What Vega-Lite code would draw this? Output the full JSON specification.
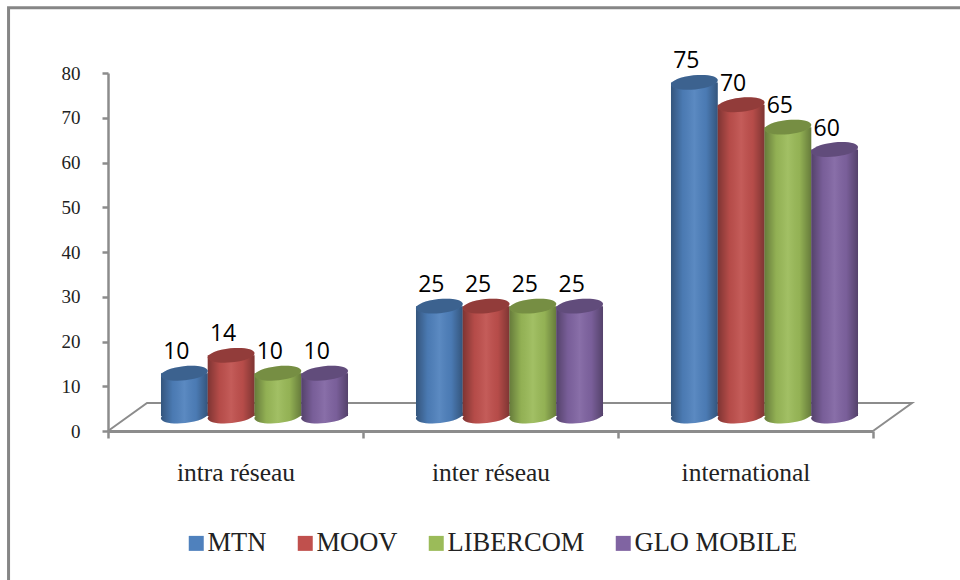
{
"$schema":"https://vega.github.io/schema/vega-lite/v6.json",
"width":765,"height":358,
"autosize":{"type":"none"},
"padding":{"left":108,"top":73,"right":87,"bottom":149},
"background":"white",
"datasets":{
"rows":[
{"cat":"intra réseau","op":"MTN","v":10},{"cat":"intra réseau","op":"MOOV","v":14},{"cat":"intra réseau","op":"LIBERCOM","v":10},{"cat":"intra réseau","op":"GLO MOBILE","v":10},
{"cat":"inter réseau","op":"MTN","v":25},{"cat":"inter réseau","op":"MOOV","v":25},{"cat":"inter réseau","op":"LIBERCOM","v":25},{"cat":"inter réseau","op":"GLO MOBILE","v":25},
{"cat":"international","op":"MTN","v":75},{"cat":"international","op":"MOOV","v":70},{"cat":"international","op":"LIBERCOM","v":65},{"cat":"international","op":"GLO MOBILE","v":60}],
"floor":[{"p":0,"fx":0,"fy":0},{"p":1,"fx":0.153,"fy":6.25},{"p":2,"fx":3.153,"fy":6.25},{"p":3,"fx":3,"fy":0}],
"frame":[{"p":0,"fx":3.4,"fy":94.6},{"p":1,"fx":-0.39,"fy":94.6},{"p":2,"fx":-0.39,"fy":-34}]
},
"layer":[
{"data":{"name":"rows"},
 "mark":{"type":"bar","opacity":0},
 "encoding":{
  "x":{"field":"cat","type":"nominal","sort":["intra réseau","inter réseau","international"],
   "scale":{"paddingInner":0,"paddingOuter":0},
   "axis":{"title":null,"labelAngle":0,"labelFont":"Liberation Serif","labelFontSize":25.5,"labelColor":"#222222","labelPadding":22,"domainColor":"#8c8c8c","domainWidth":3,"tickColor":"#8c8c8c","tickWidth":2.5,"tickSize":7,"tickBand":"extent"}},
  "y":{"field":"v","type":"quantitative","stack":null,"scale":{"domain":[0,80]},"axis":{"title":null,"values":[0,10,20,30,40,50,60,70,80],"grid":false,"labelFont":"Liberation Serif","labelFontSize":19,"labelColor":"#222222","labelPadding":22,"domainColor":"#8c8c8c","domainWidth":2.5,"tickColor":"#8c8c8c","tickWidth":2.5,"tickSize":6}}
 }},
{"data":{"name":"floor"},
 "mark":{"type":"line","color":"#8c8c8c","strokeWidth":2,"clip":false},
 "encoding":{"x":{"field":"fx","type":"quantitative","scale":{"domain":[0,3],"nice":false,"zero":false},"axis":null},
 "y":{"field":"fy","type":"quantitative"},
 "order":{"field":"p"}}},
{"data":{"name":"frame"},
 "mark":{"type":"line","color":"#868686","strokeWidth":3,"clip":false},
 "encoding":{"x":{"field":"fx","type":"quantitative","scale":{"domain":[0,3],"nice":false,"zero":false},"axis":null},
 "y":{"field":"fy","type":"quantitative"},
 "order":{"field":"p"}}},
{"data":{"name":"rows"},
 "encoding":{
  "x":{"field":"cat","type":"nominal","sort":["intra réseau","inter réseau","international"],
   "scale":{"range":[19,784],"paddingInner":0,"paddingOuter":0},"axis":null},
  "xOffset":{"field":"op","type":"nominal","sort":["MTN","MOOV","LIBERCOM","GLO MOBILE"],"scale":{"paddingInner":0,"paddingOuter":0.727}}
 },
 "layer":[
 {"mark":{"type":"point","filled":true,"opacity":1,"shape":"M-1,0.105A1,0.3,-6,1,0,1,-0.105A1,0.3,-6,1,0,-1,0.105Z","size":2190,"yOffset":-15},
  "encoding":{"y":{"datum":0,"type":"quantitative"},
   "color":{"field":"op","type":"nominal","scale":{"domain":["MTN","MOOV","LIBERCOM","GLO MOBILE"],"range":["#4f81bd","#c0504d","#9bbb59","#8064a2"]},
   "legend":{"title":null,"orient":"none","legendX":75,"legendY":457,"padding":0,"direction":"horizontal","columns":4,"symbolType":"square","symbolSize":225,"symbolOpacity":1,"symbolStrokeWidth":0,"labelFont":"Liberation Serif","labelFontSize":26.5,"labelColor":"#222222","labelLimit":400,"columnPadding":25,"labelOffset":-2}}}},
 {"mark":{"type":"point","filled":true,"opacity":1,"shape":"M-1,0.105A1,0.3,-6,1,0,1,-0.105A1,0.3,-6,1,0,-1,0.105Z","size":2190,"yOffset":-15,"color":{"x1":0,"x2":1,"y1":0,"y2":0,"gradient":"linear","stops":[{"offset":0,"color":"rgba(0,0,0,0.34)"},{"offset":0.25,"color":"rgba(0,0,0,0.06)"},{"offset":0.5,"color":"rgba(255,255,255,0.07)"},{"offset":0.75,"color":"rgba(0,0,0,0.05)"},{"offset":1,"color":"rgba(0,0,0,0.34)"}]}},
  "encoding":{"y":{"datum":0,"type":"quantitative"}}},
 {"mark":{"type":"bar","yOffset":-13,"y2Offset":-15},
  "encoding":{"y":{"field":"v","type":"quantitative","stack":null},"y2":{"datum":0},"color":{"field":"op","type":"nominal"}}},
 {"mark":{"type":"bar","yOffset":-13,"y2Offset":-15,"color":{"x1":0,"x2":1,"y1":0,"y2":0,"gradient":"linear","stops":[{"offset":0,"color":"rgba(0,0,0,0.34)"},{"offset":0.25,"color":"rgba(0,0,0,0.06)"},{"offset":0.5,"color":"rgba(255,255,255,0.07)"},{"offset":0.75,"color":"rgba(0,0,0,0.05)"},{"offset":1,"color":"rgba(0,0,0,0.34)"}]}},
  "encoding":{"y":{"field":"v","type":"quantitative","stack":null},"y2":{"datum":0}}},
 {"mark":{"type":"point","filled":true,"opacity":1,"shape":"M-1,0.105A1,0.3,-6,1,0,1,-0.105A1,0.3,-6,1,0,-1,0.105Z","size":2190,"yOffset":-13},
  "encoding":{"y":{"field":"v","type":"quantitative","stack":null},"color":{"field":"op","type":"nominal"}}},
 {"mark":{"type":"point","filled":true,"opacity":0.24,"color":"#000000","shape":"M-1,0.105A1,0.3,-6,1,0,1,-0.105A1,0.3,-6,1,0,-1,0.105Z","size":2190,"yOffset":-13},
  "encoding":{"y":{"field":"v","type":"quantitative","stack":null}}},
 {"mark":{"type":"text","font":"Open Sans","fontSize":23,"dx":-8,"dy":-34,"color":"#000000"},
  "encoding":{"y":{"field":"v","type":"quantitative","stack":null},"text":{"field":"v","type":"quantitative"}}}
 ]}
],
"resolve":{"scale":{"x":"independent"},"axis":{"x":"independent"}},
"config":{"view":{"stroke":null}}
}
